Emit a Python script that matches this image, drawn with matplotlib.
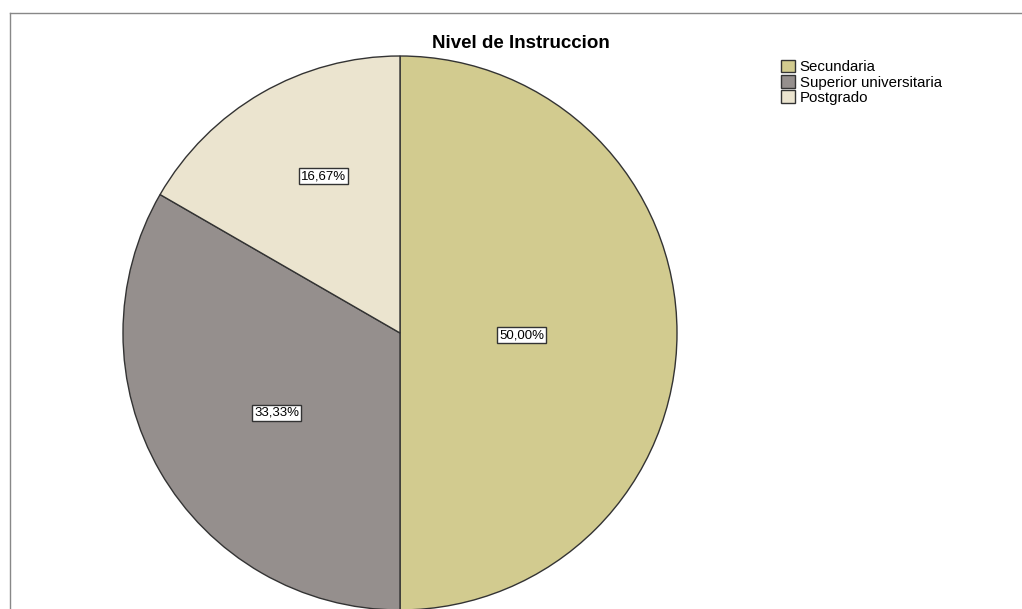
import matplotlib.pyplot as plt
import numpy as np
from matplotlib.lines import Line2D

plt.rcParams['font.family'] = ['Liberation Sans', 'DejaVu Sans']

categorias = ['Secundaria', 'Superior universitaria', 'Postgrado']
porcentajes = [50.00, 33.33, 16.67]
etiquetas = ['50,00%', '33,33%', '16,67%']
colores = ['#d2cb8f', '#958f8d', '#ebe4cf']
# label placement: fraction of radius and angle shift from wedge middle (degrees)
dist_etiqueta = [0.44, 0.53, 0.63]
giro_etiqueta = [-1, 3, -4]

fig = plt.figure(figsize=(10.22, 6.09), dpi=100)
ax = fig.add_axes([123 / 1022, -1 / 609, 554 / 1022, 554 / 609])

wedges, _ = ax.pie(porcentajes, colors=colores, startangle=90, counterclock=False,
                   radius=1, wedgeprops=dict(edgecolor='#333333', linewidth=1))
for w in wedges:
    w.set_clip_on(False)

for w, txt, d, g in zip(wedges, etiquetas, dist_etiqueta, giro_etiqueta):
    ang = np.deg2rad((w.theta1 + w.theta2) / 2 + g)
    ax.text(d * np.cos(ang), d * np.sin(ang), txt, ha='center', va='center', fontsize=9.5,
            bbox=dict(boxstyle='square,pad=0.15', facecolor='white', edgecolor='#333333', linewidth=1))

ax.set_xlim(-1, 1)
ax.set_ylim(-1, 1)
ax.set_aspect('equal')
ax.axis('off')

fig.text(521 / 1022, 1 - 43 / 609, 'Nivel de Instruccion', ha='center', va='center',
         fontsize=13.5, fontweight='bold')

fig.legend(wedges, categorias, loc='upper left', bbox_to_anchor=(781 / 1022, 1 - 60 / 609),
           frameon=False, fontsize=10.8, borderpad=0, borderaxespad=0, handlelength=0.9,
           handleheight=0.9, handletextpad=0.35, labelspacing=0.05)

# frame of the chart area
fig.add_artist(Line2D([10 / 1022, 10 / 1022], [0, 1 - 13 / 609], color='#888888', linewidth=1))
fig.add_artist(Line2D([10 / 1022, 1], [1 - 13 / 609, 1 - 13 / 609], color='#888888', linewidth=1))

fig.savefig('out.png', dpi=100)
